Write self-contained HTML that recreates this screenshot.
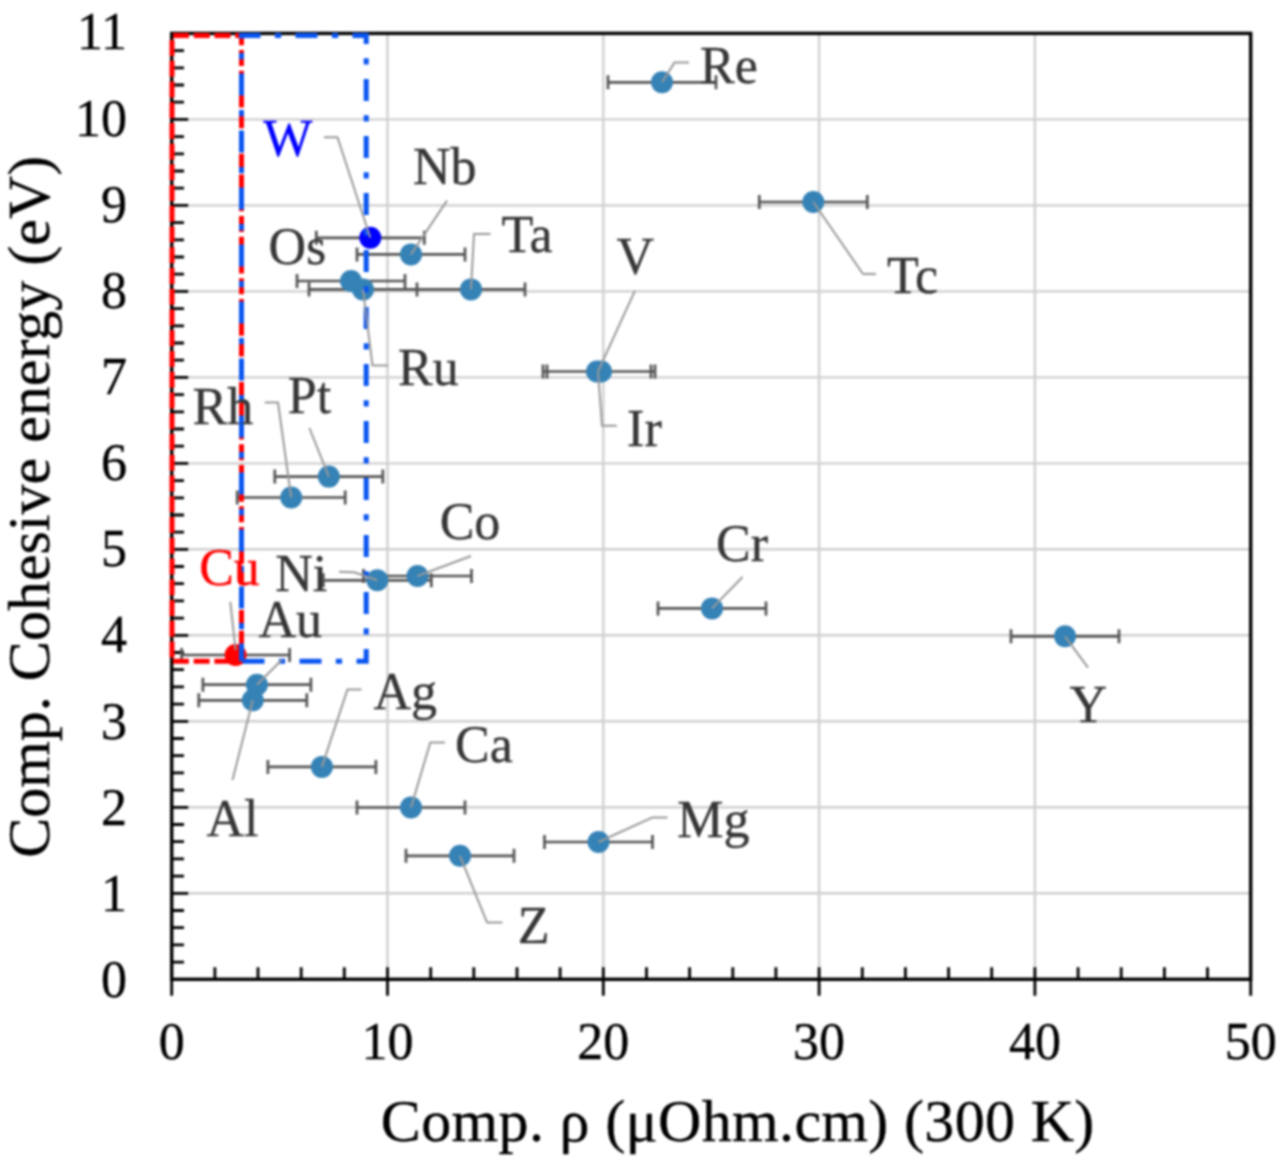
<!DOCTYPE html><html><head><meta charset="utf-8"><title>Cohesive energy vs resistivity</title><style>html,body{margin:0;padding:0;background:#fff}svg{display:block;filter:blur(0.8px)}text{stroke-width:0.35px;font-family:"Liberation Serif","Times New Roman",serif}</style></head><body>
<svg width="1280" height="1159" viewBox="0 0 1280 1159">
<rect width="1280" height="1159" fill="#fff"/>
<path d="M171.7 893.3H1250.7M171.7 807.3H1250.7M171.7 721.3H1250.7M171.7 635.3H1250.7M171.7 549.3H1250.7M171.7 463.4H1250.7M171.7 377.4H1250.7M171.7 291.4H1250.7M171.7 205.4H1250.7M171.7 119.4H1250.7M387.5 979.3V33.4M603.3 979.3V33.4M819.1 979.3V33.4M1034.9 979.3V33.4" stroke="#d0d0d0" stroke-width="2.4" fill="none"/>
<path d="M171.7 962.1H184.0M171.7 944.9H184.0M171.7 927.7H184.0M171.7 910.5H184.0M171.7 893.3H188.2M171.7 876.1H184.0M171.7 858.9H184.0M171.7 841.7H184.0M171.7 824.5H184.0M171.7 807.3H188.2M171.7 790.1H184.0M171.7 772.9H184.0M171.7 755.7H184.0M171.7 738.5H184.0M171.7 721.3H188.2M171.7 704.1H184.0M171.7 686.9H184.0M171.7 669.7H184.0M171.7 652.5H184.0M171.7 635.3H188.2M171.7 618.1H184.0M171.7 600.9H184.0M171.7 583.7H184.0M171.7 566.5H184.0M171.7 549.3H188.2M171.7 532.2H184.0M171.7 515.0H184.0M171.7 497.8H184.0M171.7 480.6H184.0M171.7 463.4H188.2M171.7 446.2H184.0M171.7 429.0H184.0M171.7 411.8H184.0M171.7 394.6H184.0M171.7 377.4H188.2M171.7 360.2H184.0M171.7 343.0H184.0M171.7 325.8H184.0M171.7 308.6H184.0M171.7 291.4H188.2M171.7 274.2H184.0M171.7 257.0H184.0M171.7 239.8H184.0M171.7 222.6H184.0M171.7 205.4H188.2M171.7 188.2H184.0M171.7 171.0H184.0M171.7 153.8H184.0M171.7 136.6H184.0M171.7 119.4H188.2M171.7 102.2H184.0M171.7 85.0H184.0M171.7 67.8H184.0M171.7 50.6H184.0M214.9 979.3V967.3M258.0 979.3V967.3M301.2 979.3V967.3M344.3 979.3V967.3M387.5 967.3V995.8M430.7 979.3V967.3M473.8 979.3V967.3M517.0 979.3V967.3M560.1 979.3V967.3M603.3 967.3V995.8M646.5 979.3V967.3M689.6 979.3V967.3M732.8 979.3V967.3M775.9 979.3V967.3M819.1 967.3V995.8M862.3 979.3V967.3M905.4 979.3V967.3M948.6 979.3V967.3M991.7 979.3V967.3M1034.9 967.3V995.8M1078.1 979.3V967.3M1121.2 979.3V967.3M1164.4 979.3V967.3M1207.5 979.3V967.3M171.7 979.3V995.8M1250.7 979.3V995.8" stroke="#000" stroke-width="2.8" fill="none"/>
<rect x="171.7" y="33.4" width="1079.0" height="945.9" stroke="#000" stroke-width="3.4" fill="none"/>
<path d="M608.0 82.3H716.0M608.0 75.3V89.3M716.0 75.3V89.3M759.3 202.0H867.3M759.3 195.0V209.0M867.3 195.0V209.0M357.0 254.4H465.0M357.0 247.4V261.4M465.0 247.4V261.4M297.0 281.0H405.0M297.0 274.0V288.0M405.0 274.0V288.0M309.0 289.4H417.0M309.0 282.4V296.4M417.0 282.4V296.4M417.0 289.4H525.0M417.0 282.4V296.4M525.0 282.4V296.4M543.0 371.5H651.0M543.0 364.5V378.5M651.0 364.5V378.5M547.0 371.5H655.0M547.0 364.5V378.5M655.0 364.5V378.5M274.8 476.6H382.8M274.8 469.6V483.6M382.8 469.6V483.6M237.2 497.5H345.2M237.2 490.5V504.5M345.2 490.5V504.5M363.5 576.0H471.5M363.5 569.0V583.0M471.5 569.0V583.0M323.3 580.3H431.3M323.3 573.3V587.3M431.3 573.3V587.3M658.0 608.4H766.0M658.0 601.4V615.4M766.0 601.4V615.4M1011.0 636.3H1119.0M1011.0 629.3V643.3M1119.0 629.3V643.3M202.9 684.7H310.9M202.9 677.7V691.7M310.9 677.7V691.7M198.8 700.3H306.8M198.8 693.3V707.3M306.8 693.3V707.3M267.9 766.9H375.9M267.9 759.9V773.9M375.9 759.9V773.9M357.0 807.5H465.0M357.0 800.5V814.5M465.0 800.5V814.5M544.5 842.0H652.5M544.5 835.0V849.0M652.5 835.0V849.0M406.0 855.8H514.0M406.0 848.8V862.8M514.0 848.8V862.8M316.3 237.8H424.3M316.3 230.8V244.8M424.3 230.8V244.8M181.6 655.0H289.6M181.6 648.0V662.0M289.6 648.0V662.0" stroke="#555555" stroke-width="2.7" fill="none"/>
<circle cx="662.0" cy="82.3" r="11" fill="#3582b6"/>
<circle cx="813.3" cy="202.0" r="11" fill="#3582b6"/>
<circle cx="411.0" cy="254.4" r="11" fill="#3582b6"/>
<circle cx="351.0" cy="281.0" r="11" fill="#3582b6"/>
<circle cx="363.0" cy="289.4" r="11" fill="#3582b6"/>
<circle cx="471.0" cy="289.4" r="11" fill="#3582b6"/>
<circle cx="597.0" cy="371.5" r="11" fill="#3582b6"/>
<circle cx="601.0" cy="371.5" r="11" fill="#3582b6"/>
<circle cx="328.8" cy="476.6" r="11" fill="#3582b6"/>
<circle cx="291.2" cy="497.5" r="11" fill="#3582b6"/>
<circle cx="417.5" cy="576.0" r="11" fill="#3582b6"/>
<circle cx="377.3" cy="580.3" r="11" fill="#3582b6"/>
<circle cx="712.0" cy="608.4" r="11" fill="#3582b6"/>
<circle cx="1065.0" cy="636.3" r="11" fill="#3582b6"/>
<circle cx="256.9" cy="684.7" r="11" fill="#3582b6"/>
<circle cx="252.8" cy="700.3" r="11" fill="#3582b6"/>
<circle cx="321.9" cy="766.9" r="11" fill="#3582b6"/>
<circle cx="411.0" cy="807.5" r="11" fill="#3582b6"/>
<circle cx="598.5" cy="842.0" r="11" fill="#3582b6"/>
<circle cx="460.0" cy="855.8" r="11" fill="#3582b6"/>
<circle cx="370.3" cy="237.8" r="11" fill="#0000ff"/>
<circle cx="235.6" cy="655.0" r="11" fill="#ff0000"/>
<path d="M172.0 35.6H241.5V661.2H172.0Z" stroke="#ff0000" stroke-width="5" fill="none" stroke-dasharray="16 4.74" stroke-dashoffset="-1.03"/>
<path d="M241.5 661.2H366.2V35.6H241.5Z" stroke="#0a55f0" stroke-width="5" fill="none" stroke-dasharray="22 14.3 6.3 14.4" stroke-dashoffset="-1"/>
<path d="M662.0 82.3L674.5 62.6L689.0 62.6M324.0 137.2L337.5 137.2L370.3 237.8M447.0 200.6L411.0 254.4M490.6 234.0L474.0 234.0L471.0 289.4M813.3 202.0L863.0 274.0L876.0 274.0M598.0 371.5L635.0 290.7M598.0 371.5L602.0 425.7L616.8 425.7M363.0 289.4L372.5 365.6L388.0 365.6M264.7 402.5L278.0 402.5L291.2 497.5M309.4 428.0L328.8 476.6M471.0 556.0L417.5 576.0M339.0 571.8L354.0 572.3L377.3 580.3M712.0 608.4L742.5 577.0M1065.0 636.3L1088.0 667.6M230.3 601.9L235.6 650.0M256.9 684.7L281.9 659.7M232.5 780.0L252.8 700.3M321.9 766.9L347.5 689.4L361.6 689.4M411.0 807.5L430.3 742.5L445.0 742.5M598.5 842.0L652.6 817.4L667.4 817.4M460.0 855.8L487.0 922.4L502.4 922.4" stroke="#999999" stroke-width="2" fill="none" stroke-linejoin="round"/>
<text x="700.0" y="82.5" font-size="52" fill="#363636" stroke="#363636">Re</text>
<text x="263.3" y="156.2" font-size="52" fill="#0000ff" stroke="#0000ff">W</text>
<text x="413.0" y="183.6" font-size="52" fill="#363636" stroke="#363636">Nb</text>
<text x="501.4" y="251.7" font-size="52" fill="#363636" stroke="#363636">Ta</text>
<text x="268.5" y="264.3" font-size="52" fill="#363636" stroke="#363636">Os</text>
<text x="886.9" y="293.4" font-size="52" fill="#363636" stroke="#363636">Tc</text>
<text x="616.5" y="273.8" font-size="52" fill="#363636" stroke="#363636">V</text>
<text x="398.1" y="384.8" font-size="52" fill="#363636" stroke="#363636">Ru</text>
<text x="627.1" y="445.5" font-size="52" fill="#363636" stroke="#363636">Ir</text>
<text x="192.5" y="423.5" font-size="52" fill="#363636" stroke="#363636">Rh</text>
<text x="287.8" y="412.5" font-size="52" fill="#363636" stroke="#363636">Pt</text>
<text x="439.7" y="539.3" font-size="52" fill="#363636" stroke="#363636">Co</text>
<text x="275.3" y="591.0" font-size="52" fill="#363636" stroke="#363636">Ni</text>
<text x="199.2" y="585.0" font-size="52" fill="#ff0000" stroke="#ff0000">Cu</text>
<text x="716.1" y="561.2" font-size="52" fill="#363636" stroke="#363636">Cr</text>
<text x="258.5" y="637.3" font-size="52" fill="#363636" stroke="#363636">Au</text>
<text x="1069.4" y="722.0" font-size="52" fill="#363636" stroke="#363636">Y</text>
<text x="373.4" y="709.4" font-size="52" fill="#363636" stroke="#363636">Ag</text>
<text x="206.5" y="836.0" font-size="52" fill="#363636" stroke="#363636">Al</text>
<text x="455.0" y="761.5" font-size="52" fill="#363636" stroke="#363636">Ca</text>
<text x="677.3" y="836.9" font-size="52" fill="#363636" stroke="#363636">Mg</text>
<text x="517.7" y="943.0" font-size="52" fill="#363636" stroke="#363636">Z</text>
<text x="127" y="997.0" font-size="52" text-anchor="end" stroke="#000">0</text>
<text x="127" y="910.8" font-size="52" text-anchor="end" stroke="#000">1</text>
<text x="127" y="824.7" font-size="52" text-anchor="end" stroke="#000">2</text>
<text x="127" y="738.5" font-size="52" text-anchor="end" stroke="#000">3</text>
<text x="127" y="652.4" font-size="52" text-anchor="end" stroke="#000">4</text>
<text x="127" y="566.2" font-size="52" text-anchor="end" stroke="#000">5</text>
<text x="127" y="480.1" font-size="52" text-anchor="end" stroke="#000">6</text>
<text x="127" y="393.9" font-size="52" text-anchor="end" stroke="#000">7</text>
<text x="127" y="307.8" font-size="52" text-anchor="end" stroke="#000">8</text>
<text x="127" y="221.6" font-size="52" text-anchor="end" stroke="#000">9</text>
<text x="127" y="135.5" font-size="52" text-anchor="end" stroke="#000">10</text>
<text x="127" y="49.3" font-size="52" text-anchor="end" stroke="#000">11</text>
<text x="171.7" y="1058.8" font-size="52" text-anchor="middle" stroke="#000">0</text>
<text x="387.5" y="1058.8" font-size="52" text-anchor="middle" stroke="#000">10</text>
<text x="603.3" y="1058.8" font-size="52" text-anchor="middle" stroke="#000">20</text>
<text x="819.1" y="1058.8" font-size="52" text-anchor="middle" stroke="#000">30</text>
<text x="1034.9" y="1058.8" font-size="52" text-anchor="middle" stroke="#000">40</text>
<text x="1250.7" y="1058.8" font-size="52" text-anchor="middle" stroke="#000">50</text>
<text x="737.6" y="1141" font-size="60" text-anchor="middle" stroke="#000" textLength="713.5" lengthAdjust="spacing">Comp. ρ (μOhm.cm) (300 K)</text>
<text transform="translate(48.5 506.8) rotate(-90)" font-size="60" text-anchor="middle" stroke="#000">Comp. Cohesive energy (eV)</text>
</svg></body></html>
